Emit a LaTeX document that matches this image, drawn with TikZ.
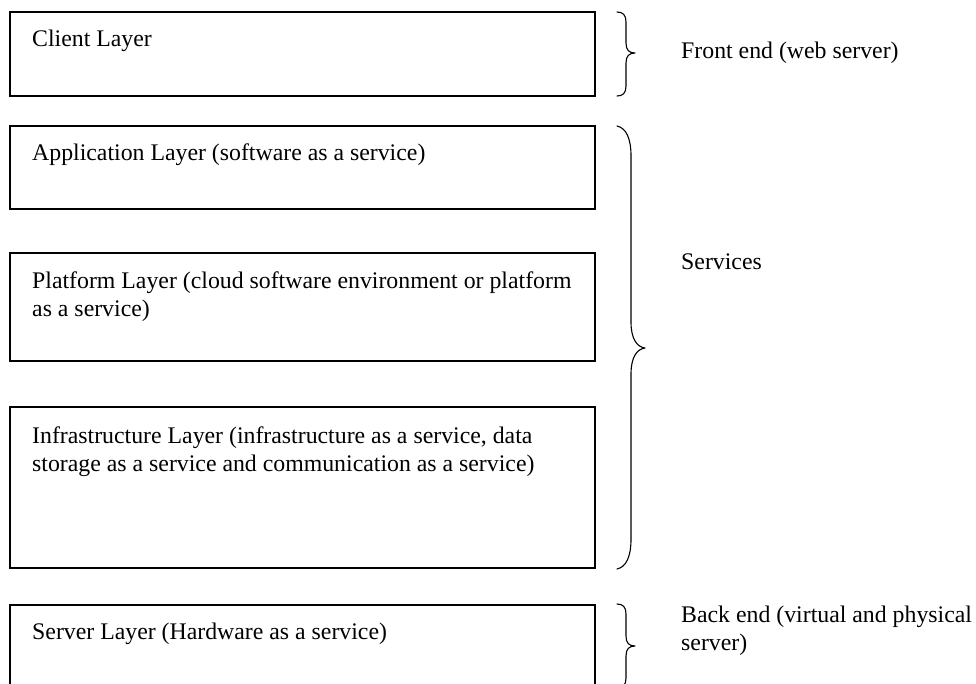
\documentclass[tikz,border=0pt]{standalone}
\usepackage{fontspec}
\setmainfont{Liberation Serif}
\begin{document}
\begin{tikzpicture}[x=1pt,y=-1pt,
  layerbox/.style={draw=black, line width=1.1pt, anchor=north west, inner sep=0pt, outer sep=0pt},
  layertext/.style={anchor=base west, inner sep=0pt, align=left, font=\fontsize{23.8}{28.5}\selectfont},
  sidetext/.style={anchor=west, inner sep=0pt, align=left, font=\fontsize{23.8}{28.5}\selectfont},
  bracepath/.style={draw=black, line width=1.1pt, line cap=round, line join=round}]
\clip (0,0) rectangle (976,683);
\fill[white] (0,0) rectangle (976,683);
% boxes
\node[layerbox, minimum width=585pt, minimum height=84pt] (client) at (10,12) {};
\node[layerbox, minimum width=585pt, minimum height=83pt] (app) at (10,126) {};
\node[layerbox, minimum width=585pt, minimum height=108pt] (plat) at (10,253) {};
\node[layerbox, minimum width=585pt, minimum height=161pt] (infra) at (10,407) {};
\node[layerbox, minimum width=585pt, minimum height=100pt] (server) at (10,605) {};
% texts (multi-line nodes are placed by the baseline of their last line)
\node[layertext] (clientt) at (32,46) {Client Layer};
\node[layertext] (appt) at (32,160) {Application Layer (software as a service)};
\node[layertext] (platt) at (32,316.5) {Platform Layer (cloud software environment or platform\\as a service)};
\node[layertext] (infrat) at (32,471.5) {Infrastructure Layer (infrastructure as a service, data\\storage as a service and communication as a service)};
\node[layertext] (servert) at (32,639) {Server Layer (Hardware as a service)};
% braces
\draw[bracepath] (617,12) .. controls (623,12) and (626,15) .. (626,22) -- (626,43)
  .. controls (626,50) and (629,53) .. (635,53)
  .. controls (629,53) and (626,56) .. (626,63) -- (626,86)
  .. controls (626,93) and (623,96) .. (617,96);
\draw[bracepath] (617,126) .. controls (626,128) and (631,138) .. (631,156) -- (631,322)
  .. controls (631,339) and (637,347) .. (645,348)
  .. controls (637,349) and (631,357) .. (631,374) -- (631,539)
  .. controls (631,557) and (626,567) .. (617,569);
\draw[bracepath] (617,604) .. controls (623,604) and (626,607) .. (626,614) -- (626,636)
  .. controls (626,643) and (629,646) .. (635,646)
  .. controls (629,646) and (626,649) .. (626,656) -- (626,678)
  .. controls (626,685) and (623,688) .. (617,688);
% side labels
\node[sidetext] (front) at (681,53) {Front end (web server)};
\node[sidetext] (serv) at (681,262) {Services};
\node[sidetext] (back) at (681,631) {Back end (virtual and physical\\server)};
\end{tikzpicture}
\end{document}
